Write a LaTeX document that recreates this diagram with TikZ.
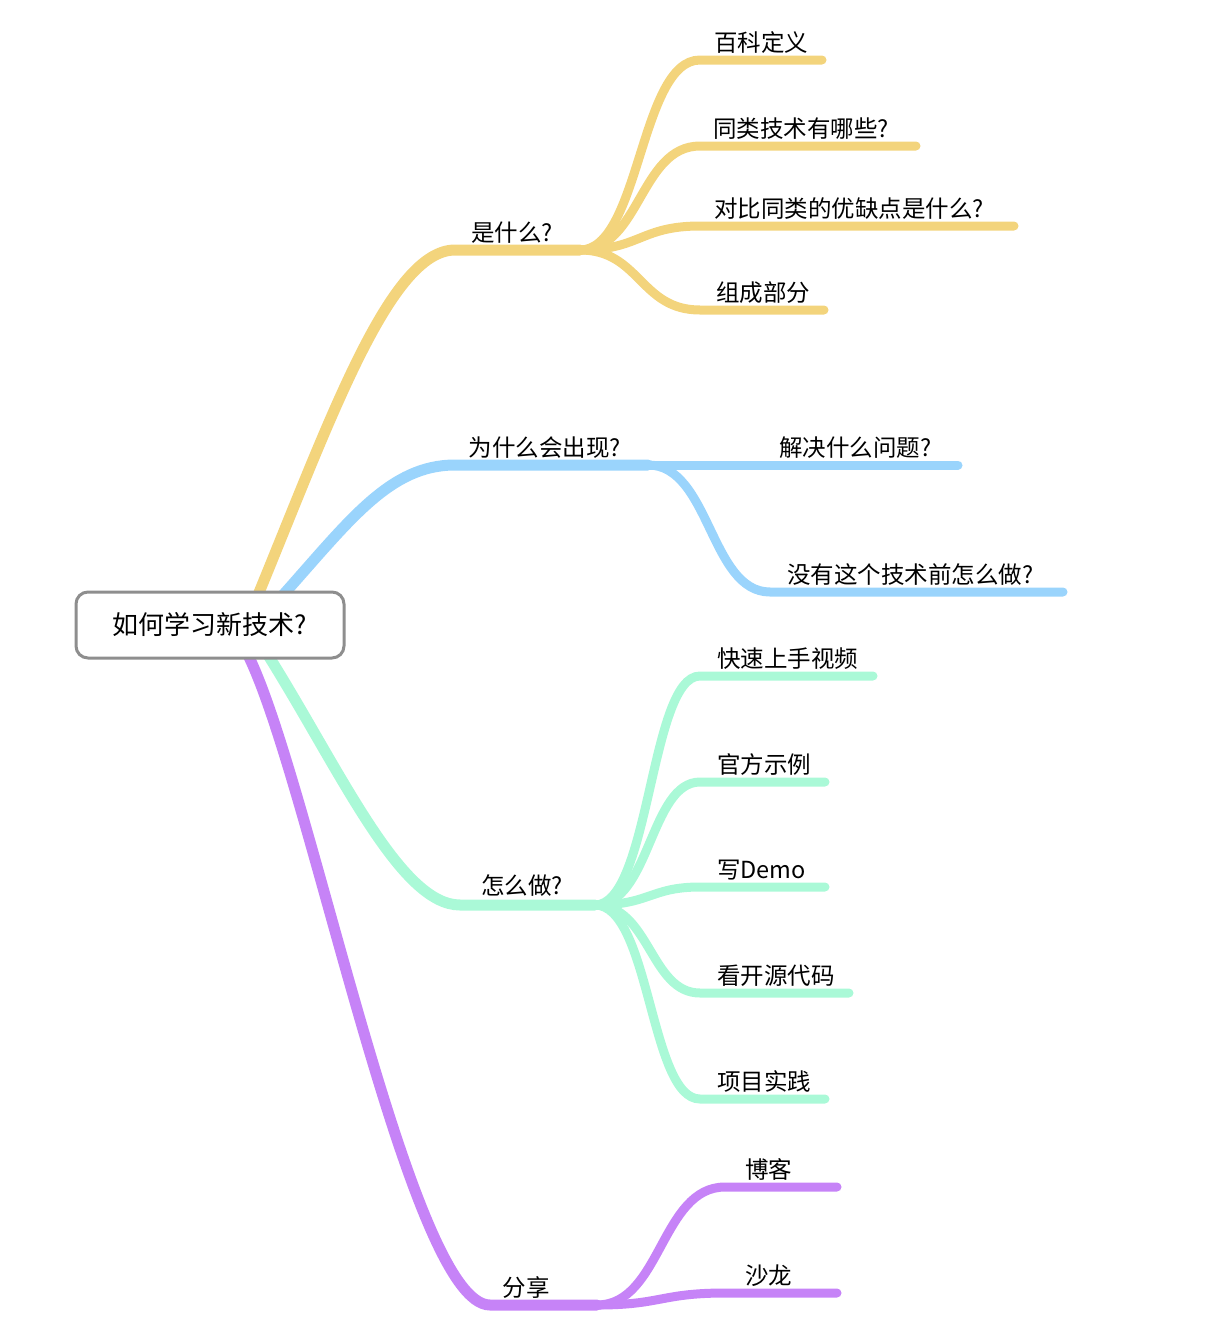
\documentclass[tikz,border=0pt]{standalone}
\usepackage{fontspec}
\setmainfont{Noto Sans CJK SC}
\usepackage{xcolor}
\definecolor{colorWhat}{HTML}{F3D47C}
\definecolor{colorWhy}{HTML}{9AD4FC}
\definecolor{colorHow}{HTML}{AAF9D7}
\definecolor{colorShare}{HTML}{C683F7}
\definecolor{colorRoot}{HTML}{8E8E8E}
\usepackage{tikz}
\usetikzlibrary{positioning}

\begin{document}
\begin{tikzpicture}[x=1pt, y=-1pt, line cap=round,
  trunk/.style={line width=11pt},
  twig/.style={line width=9pt},
  rootbox/.style={draw=colorRoot, line width=3pt, rounded corners=12pt, fill=white, minimum width=268pt, minimum height=66pt, font=\fontsize{26}{30}\selectfont},
  topic/.style={anchor=base, inner sep=0pt, font=\fontsize{23.5}{28}\selectfont},
  leaf/.style={anchor=base west, inner sep=0pt, font=\fontsize{23.5}{28}\selectfont}]
\useasboundingbox (0,0) rectangle (1232,1342);
% branch points
\coordinate (sWhat) at (258,595);
\coordinate (sWhy) at (283,595);
\coordinate (sHow) at (268,655);
\coordinate (sShare) at (248,655);
\coordinate (aWhat) at (455,250); \coordinate (bWhat) at (580,250);
\coordinate (aWhy) at (455,465); \coordinate (bWhy) at (648,465);
\coordinate (aHow) at (460,905); \coordinate (bHow) at (595,905);
\coordinate (aShare) at (490,1305); \coordinate (bShare) at (597,1305);
% main branches
\draw[trunk, colorWhat] (sWhat) .. controls (330,420) and (390,250) .. (aWhat) -- (bWhat);
\draw[trunk, colorWhy] (sWhy) .. controls (350,520) and (390,465) .. (aWhy) -- (bWhy);
\draw[trunk, colorHow] (sHow) .. controls (340,770) and (400,905) .. (aHow) -- (bHow);
\draw[trunk, colorShare] (sShare) .. controls (310,780) and (410,1305) .. (aShare) -- (bShare);
\node[rootbox] (root) at (210,625) {如何学习新技术?};
\node[topic] (what) at (512,241) {是什么?};
\node[topic] (why) at (545,456) {为什么会出现?};
\node[topic] (how) at (522,894) {怎么做?};
\node[topic] (share) at (526,1296) {分享};
% what?
\coordinate (w1) at (700,60); \coordinate (w1e) at (822,60);
\coordinate (w2) at (700,146); \coordinate (w2e) at (916,146);
\coordinate (w3) at (700,226); \coordinate (w3e) at (1014,226);
\coordinate (w4) at (700,310); \coordinate (w4e) at (824,310);
\draw[twig, colorWhat] (bWhat) .. controls (640,250) and (640,60) .. (w1) -- (w1e);
\draw[twig, colorWhat] (bWhat) .. controls (640,250) and (640,146) .. (w2) -- (w2e);
\draw[twig, colorWhat] (bWhat) .. controls (640,250) and (640,226) .. (w3) -- (w3e);
\draw[twig, colorWhat] (bWhat) .. controls (640,250) and (640,310) .. (w4) -- (w4e);
\node[leaf] (wDef) at (714,51) {百科定义};
\node[leaf] (wSame) at (713,137) {同类技术有哪些?};
\node[leaf] (wCmp) at (714,217) {对比同类的优缺点是什么?};
\node[leaf] (wPart) at (716,301) {组成部分};
% why?
\coordinate (y1e) at (958,465);
\coordinate (y2) at (770,592); \coordinate (y2e) at (1063,592);
\draw[twig, colorWhy] (bWhy) -- (y1e);
\draw[twig, colorWhy] (bWhy) .. controls (710,465) and (710,592) .. (y2) -- (y2e);
\node[leaf] (yProb) at (779,456) {解决什么问题?};
\node[leaf] (yBefore) at (787,583) {没有这个技术前怎么做?};
% how?
\coordinate (h1) at (700,676); \coordinate (h1e) at (873,676);
\coordinate (h2) at (700,782); \coordinate (h2e) at (825,782);
\coordinate (h3) at (700,887); \coordinate (h3e) at (825,887);
\coordinate (h4) at (700,993); \coordinate (h4e) at (849,993);
\coordinate (h5) at (700,1099); \coordinate (h5e) at (825,1099);
\draw[twig, colorHow] (bHow) .. controls (650,905) and (650,676) .. (h1) -- (h1e);
\draw[twig, colorHow] (bHow) .. controls (650,905) and (650,782) .. (h2) -- (h2e);
\draw[twig, colorHow] (bHow) .. controls (650,905) and (650,887) .. (h3) -- (h3e);
\draw[twig, colorHow] (bHow) .. controls (650,905) and (650,993) .. (h4) -- (h4e);
\draw[twig, colorHow] (bHow) .. controls (650,905) and (650,1099) .. (h5) -- (h5e);
\node[leaf] (hVideo) at (717,667) {快速上手视频};
\node[leaf] (hDemo) at (717,773) {官方示例};
\node[leaf] (hWrite) at (717,878) {写Demo};
\node[leaf] (hCode) at (717,984) {看开源代码};
\node[leaf] (hProj) at (717,1090) {项目实践};
% share
\coordinate (p1) at (725,1187); \coordinate (p1e) at (837,1187);
\coordinate (p2) at (725,1293); \coordinate (p2e) at (837,1293);
\draw[twig, colorShare] (bShare) .. controls (661,1305) and (661,1187) .. (p1) -- (p1e);
\draw[twig, colorShare] (bShare) .. controls (661,1305) and (661,1293) .. (p2) -- (p2e);
\node[leaf] (pBlog) at (745,1178) {博客};
\node[leaf] (pSalon) at (745,1284) {沙龙};
\end{tikzpicture}
\end{document}
